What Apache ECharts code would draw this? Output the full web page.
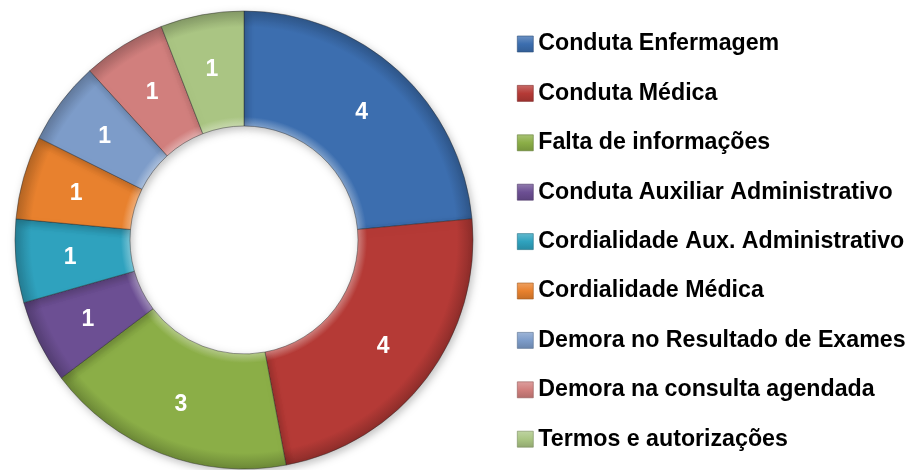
<!DOCTYPE html>
<html>
<head>
<meta charset="utf-8">
<script src="https://cdn.jsdelivr.net/npm/echarts@6/dist/echarts.min.js"></script>
<style>
  html, body { margin: 0; padding: 0; background: #fff; }
  #chart { width: 908px; height: 470px; }
</style>
</head>
<body>
<div id="chart"></div>
<script>
// Complaint categories and their counts
const categories = [
  'Conduta Enfermagem',
  'Conduta Médica',
  'Falta de informações',
  'Conduta Auxiliar Administrativo',
  'Cordialidade Aux. Administrativo',
  'Cordialidade Médica',
  'Demora no Resultado de Exames',
  'Demora na consulta agendada',
  'Termos e autorizações'
];
const counts = [4, 4, 3, 1, 1, 1, 1, 1, 1];
const sliceColors = [
  '#3C6EAF', '#B53A36', '#8BAE47', '#6C4F93', '#2FA2BE',
  '#E8812E', '#7D9CC9', '#D17F7D', '#AAC583'
];

const cx = 244, cy = 240, rOuter = 229, rInner = 114;

function shade(hex, amt) {
  const n = parseInt(hex.slice(1), 16);
  let r = (n >> 16) & 255, g = (n >> 8) & 255, b = n & 255;
  const f = c => Math.max(0, Math.min(255, Math.round(amt >= 0 ? c + (255 - c) * amt : c * (1 + amt))));
  return 'rgb(' + f(r) + ',' + f(g) + ',' + f(b) + ')';
}

// Bevelled ring fill: lighter at the inner rim, darker at the outer rim
function bevel(hex) {
  const inner = rInner / rOuter;
  return {
    type: 'radial', x: cx, y: cy, r: rOuter, global: true,
    colorStops: [
      { offset: 0, color: shade(hex, 0.35) },
      { offset: inner, color: shade(hex, 0.35) },
      { offset: inner + 0.04, color: hex },
      { offset: 0.93, color: hex },
      { offset: 1, color: shade(hex, -0.22) }
    ]
  };
}

// Small bevelled swatch for the legend keys
function swatch(hex) {
  return {
    type: 'linear', x: 0, y: 0, x2: 0, y2: 1,
    colorStops: [
      { offset: 0, color: shade(hex, 0.25) },
      { offset: 0.5, color: hex },
      { offset: 1, color: shade(hex, -0.15) }
    ]
  };
}

const chart = echarts.init(document.getElementById('chart'), null, { renderer: 'canvas' });
chart.setOption({
  animation: false,
  legend: {
    orient: 'vertical',
    left: 512,
    top: 27,
    itemWidth: 16,
    itemHeight: 16,
    itemGap: 25.4,
    icon: 'rect',
    selectedMode: false,
    textStyle: {
      fontFamily: 'Liberation Sans, Arial, sans-serif',
      fontWeight: 'bold',
      fontSize: 23.2,
      lineHeight: 24,
      color: '#000'
    },
    data: categories.map((name, i) => ({
      name,
      itemStyle: { color: swatch(sliceColors[i]), borderColor: shade(sliceColors[i], -0.3), borderWidth: 0.6 }
    }))
  },
  series: [{
    type: 'pie',
    center: [cx, cy],
    radius: [rInner, rOuter],
    startAngle: 90,
    clockwise: true,
    avoidLabelOverlap: false,
    label: {
      show: true,
      position: 'inside',
      formatter: '{c}',
      color: '#fff',
      fontFamily: 'Liberation Sans, Arial, sans-serif',
      fontWeight: 'bold',
      fontSize: 23,
      offset: [0, 1.5]
    },
    labelLine: { show: false },
    emphasis: { disabled: true },
    itemStyle: {
      borderColor: 'rgba(40,40,40,0.55)',
      borderWidth: 0.8,
      shadowBlur: 8,
      shadowOffsetX: 2,
      shadowOffsetY: 3,
      shadowColor: 'rgba(0,0,0,0.25)'
    },
    data: categories.map((name, i) => ({
      name,
      value: counts[i],
      itemStyle: { color: bevel(sliceColors[i]) }
    }))
  }]
});
</script>
</body>
</html>
